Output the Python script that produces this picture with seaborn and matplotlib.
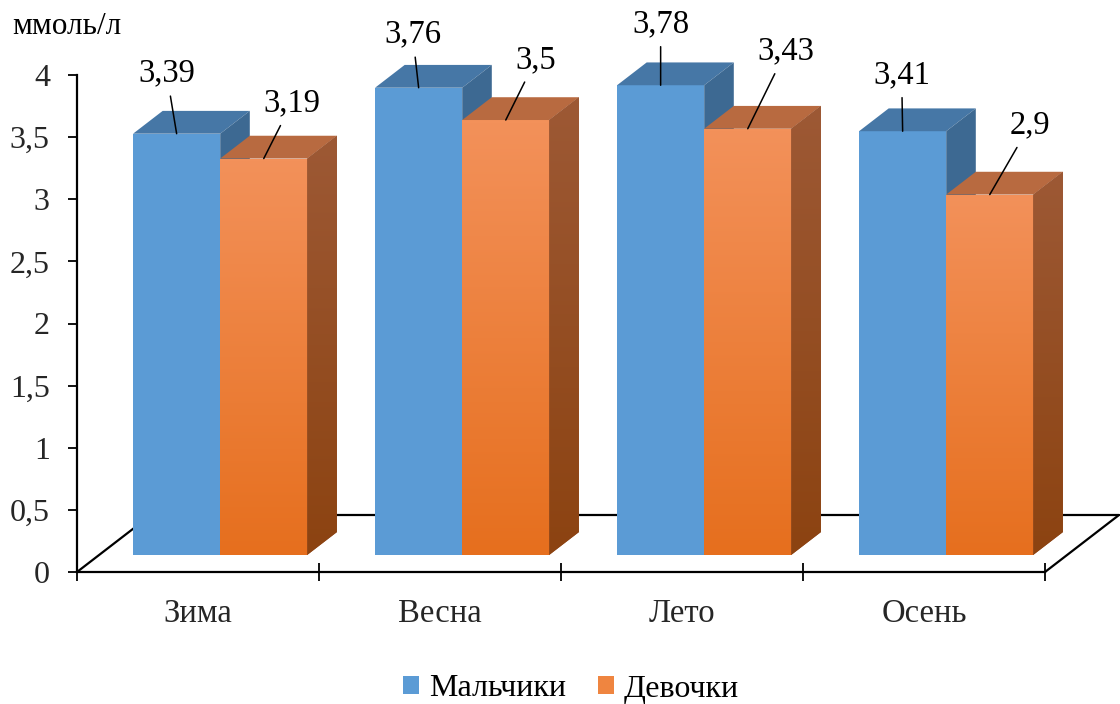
import numpy as np
import pandas as pd
import matplotlib
matplotlib.use("Agg")
import matplotlib.pyplot as plt
import seaborn as sns
from matplotlib.patches import Polygon, Patch
from matplotlib.colors import LinearSegmentedColormap
from matplotlib.ticker import FixedLocator

# ---- data -------------------------------------------------------------
seasons = ["Зима", "Весна", "Лето", "Осень"]
groups = ["Мальчики", "Девочки"]
boys = [3.39, 3.76, 3.78, 3.41]
girls = [3.19, 3.50, 3.43, 2.90]
y_ticks = [0, 0.5, 1, 1.5, 2, 2.5, 3, 3.5, 4]
unit = "ммоль/л"

# value label placement, pixels from the top-front centre of each bar
label_offsets = [[(-10, 62), (-6, 55), (0, 63), (-1, 58)],
                 [(28, 57), (30, 62), (38, 79), (40, 71)]]

df = pd.DataFrame({
    "season": seasons * 2,
    "group": [groups[0]] * len(seasons) + [groups[1]] * len(seasons),
    "value": boys + girls,
})

# ---- style ------------------------------------------------------------
sns.set_theme(style="white")
plt.rcParams["font.family"] = ["Liberation Serif", "DejaVu Serif"]
plt.rcParams["text.color"] = "black"

front = ["#5B9BD5", "#EF8540"]
shade = {
    0: dict(top="#4677A6", side="#3D6992", grad=None, side_grad=None),
    1: dict(top="#B86A40", side="#965230",
            grad=("#F3915A", "#E66F1E"), side_grad=("#9D5935", "#8C4311")),
}

W, H = 1120, 704
fig = plt.figure(figsize=(W / 100, H / 100), dpi=100)
ax = fig.add_axes([77 / W, (H - 572) / H, (1045 - 77) / W, (572 - 75) / H])

sns.barplot(data=df, x="season", y="value", hue="group", order=seasons,
            hue_order=groups, palette=front, width=0.72, saturation=1,
            errorbar=None, legend=False, ax=ax)

ax.set_xlim(-0.5, len(seasons) - 0.5)
ax.set_ylim(0, 4)

# pixel -> data scale for the oblique depth axis
px_x = ax.get_position().width * W / (len(seasons))
px_y = ax.get_position().height * H / 4.0
depth = np.array([74 / px_x, 57 / px_y])      # full floor depth
bar_front, bar_back = 0.3, 0.7                  # bar slab within the floor depth


def gradient(clip, x0, x1, y0, y1, c_top, c_bot, z):
    cmap = LinearSegmentedColormap.from_list("g", [c_bot, c_top])
    im = ax.imshow(np.linspace(0, 1, 128).reshape(-1, 1), cmap=cmap,
                   extent=(x0, x1, y0, y1), origin="lower", aspect="auto",
                   interpolation="bilinear", zorder=z)
    im.set_clip_path(clip)
    if not hasattr(clip, "get_width"):
        im.set_clip_box(fig.bbox)
    return im


# floor outline
x_lo, x_hi = -0.5, len(seasons) - 0.5
lw = 1.6
ax.plot([x_lo, x_lo + depth[0]], [0, depth[1]], color="black", lw=lw,
        zorder=1.5, clip_on=False, solid_capstyle="butt")
ax.plot([x_lo + depth[0], x_hi + depth[0]], [depth[1], depth[1]],
        color="black", lw=lw, zorder=1.5, clip_on=False)
ax.plot([x_hi, x_hi + depth[0]], [0, depth[1]], color="black", lw=lw,
        zorder=1.5, clip_on=False)

off = depth * bar_front
d = depth * (bar_back - bar_front)

for j, cont in enumerate(ax.containers):
    for i, bar in enumerate(cont.patches):
        z = 3 + (i * 2 + j) * 0.1
        x0 = bar.get_x() + off[0]
        w = bar.get_width()
        h = bar.get_height()
        y0 = bar.get_y() + off[1]
        bar.set_x(x0)
        bar.set_y(y0)
        bar.set_zorder(z)
        bar.set_clip_on(False)
        bar.set_edgecolor("none")
        s = shade[j]
        if s["grad"]:
            bar.set_facecolor(s["grad"][0])
            gradient(bar, x0, x0 + w, y0, y0 + h, s["grad"][0], s["grad"][1], z + 0.01)
        top = Polygon([(x0, y0 + h), (x0 + w, y0 + h),
                       (x0 + w + d[0], y0 + h + d[1]), (x0 + d[0], y0 + h + d[1])],
                      closed=True, facecolor=s["top"], edgecolor="none",
                      zorder=z + 0.02, clip_on=False)
        ax.add_patch(top)
        side = Polygon([(x0 + w, y0), (x0 + w + d[0], y0 + d[1]),
                        (x0 + w + d[0], y0 + h + d[1]), (x0 + w, y0 + h)],
                       closed=True, facecolor=s["side"], edgecolor="none",
                       zorder=z + 0.03, clip_on=False)
        ax.add_patch(side)
        if s["side_grad"]:
            gradient(side, x0 + w, x0 + w + d[0], y0, y0 + h + d[1],
                     s["side_grad"][0], s["side_grad"][1], z + 0.04)

        # value label with leader line
        val = [boys, girls][j][i]
        dx, dy = label_offsets[j][i]
        ax.annotate(f"{val:g}".replace(".", ","),
                    xy=(x0 + w / 2, y0 + h), xycoords="data",
                    xytext=(dx, dy - 10), textcoords="offset pixels",
                    ha="center", va="baseline", fontsize=23.5, zorder=10,
                    annotation_clip=False,
                    arrowprops=dict(arrowstyle="-", color="black", lw=1.1,
                                    shrinkA=3, shrinkB=0))

ax.set_xlim(x_lo, x_hi)
ax.set_ylim(0, 4)

# axes styling
for side_name in ["top", "right"]:
    ax.spines[side_name].set_visible(False)
for side_name in ["left", "bottom"]:
    ax.spines[side_name].set_color("black")
    ax.spines[side_name].set_linewidth(lw)

ax.set_yticks(y_ticks)
ax.set_yticklabels([f"{t:g}".replace(".", ",") for t in y_ticks])
ax.tick_params(axis="y", which="major", direction="out", length=6.5,
               width=1.3, color="black", pad=13, labelsize=23, left=True)
ax.set_xticks(range(len(seasons)))
ax.set_xticklabels(seasons)
ax.tick_params(axis="x", which="major", length=0, pad=19, labelsize=23.5)
ax.xaxis.set_minor_locator(FixedLocator(np.arange(x_lo, x_hi + 0.01, 1.0)))
ax.tick_params(axis="x", which="minor", direction="inout", length=13,
               width=1.3, color="black", bottom=True)
ax.set_xlabel("")
ax.set_ylabel("")
ax.grid(False)

fig.text(12 / W, 1 - 26 / H, unit, fontsize=22.5, ha="left", va="center")

handles = [Patch(facecolor=front[0], edgecolor="none"),
           Patch(facecolor=front[1], edgecolor="none")]
fig.legend(handles, groups, loc="center", bbox_to_anchor=(571 / W, 1 - 689 / H),
           ncol=2, frameon=False, fontsize=23, handlelength=0.5,
           handleheight=0.5, handletextpad=0.3, columnspacing=1.0,
           borderpad=0, borderaxespad=0)

fig.savefig("out.png", dpi=100)
